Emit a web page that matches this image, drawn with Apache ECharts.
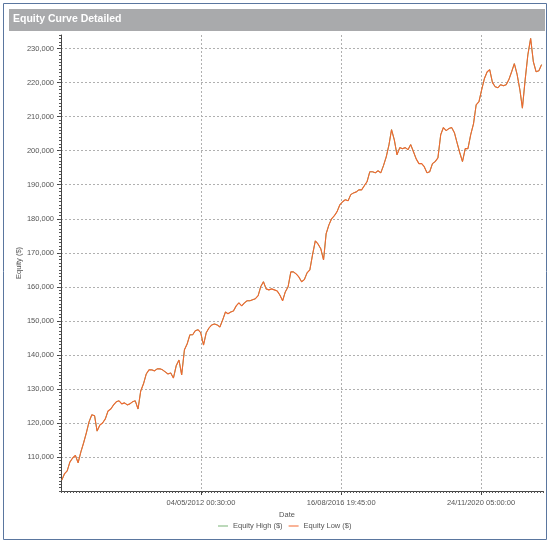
<!DOCTYPE html>
<html><head><meta charset="utf-8">
<script src="https://cdn.jsdelivr.net/npm/echarts@6/dist/echarts.min.js"></script>
<style>html,body{margin:0;padding:0;background:#fff}#c{width:554px;height:545px}</style>
</head><body><div id="c"></div><script>
// Monthly equity readings starting Feb 2008 (first of each month)
const firstYear = 2008, firstMonthIndex = 1;
const equityLow = [
103200,105000,105900,108500,109700,110500,108300,111500,114100,117100,
120300,122400,122100,117600,119400,120000,121200,123500,124100,125300,
126200,126500,125600,125900,125300,125600,126200,126500,124100,129400,
131500,134400,135600,135600,135300,135900,135900,135600,135000,134400,
134700,133200,136800,138500,134100,141500,143200,145900,145900,147100,
147400,146500,142900,146500,147900,148800,149100,148800,148200,150300,
152600,152100,152600,152900,154400,155300,154400,155300,155900,155900,
156200,156500,157400,160000,161500,159400,159100,159400,159100,158800,
157600,155900,158500,160000,164400,164400,163800,162900,161500,162100,
164100,165000,169400,173500,172600,171200,167900,175600,178200,180000,
180900,182100,184100,185000,185600,185300,187100,187600,187900,188500,
188500,189700,190900,193800,193800,193500,194100,193500,195600,198200,
201800,206200,203200,198800,200900,200600,200900,200300,201800,199700,
197600,196200,196200,195300,193500,193800,196200,196800,197900,204700,
206800,205900,206500,206800,205300,202400,199400,196800,200600,200600,
204700,207900,213500,214400,217900,221200,223200,223800,220000,218800,
218500,219400,219100,219400,220900,223200,225600,222400,217900,212500,
220900,228200,233000,226200,223200,223500,225300
];
const equityHigh = equityLow; // drawn underneath, coincides with the low curve
const xTickLabels = ['04/05/2012 00:30:00','16/08/2016 19:45:00','24/11/2020 05:00:00'];
const yTickValues = [110000,120000,130000,140000,150000,160000,170000,180000,190000,200000,210000,220000,230000];
const xRange = ['2008-01-23','2022-10-17'];
const yRange = [100000, 234000];

function parseDMY(s){
  const [d,t]=s.split(' ');
  const [dd,mm,yy]=d.split('/').map(Number);
  const [h,mi,se]=t.split(':').map(Number);
  return new Date(yy,mm-1,dd,h,mi,se).getTime();
}
function parseISO(s){const [y,m,d]=s.split('-').map(Number);return new Date(y,m-1,d).getTime();}
const xTickValues = xTickLabels.map(parseDMY);
const dates = equityLow.map((_,i)=>new Date(firstYear, firstMonthIndex+i, 1).getTime());
const lowData = dates.map((d,i)=>[d,equityLow[i]]);
const highData = dates.map((d,i)=>[d,equityHigh[i]]);

const FONT = 'Liberation Sans';
const LOW_COLOR = '#f2672f', HIGH_COLOR = '#79b274';
const chart = echarts.init(document.getElementById('c'), null, {renderer:'canvas'});
chart.setOption({
  animation:false,
  backgroundColor:'#fff',
  graphic:[
    {type:'rect', shape:{x:3.5,y:3.5,width:543,height:536}, style:{fill:'none',stroke:'#5a769f',lineWidth:1}, z:-10},
    {type:'rect', shape:{x:9,y:9,width:536,height:22}, style:{fill:'#a9aaac'}, z:-9}
  ],
  title:{text:'Equity Curve Detailed', left:13, top:14, padding:0,
    textStyle:{color:'#fff',fontSize:10.5,fontWeight:'bold',fontFamily:FONT}},
  legend:{left:218, top:522, icon:'rect', itemWidth:10, itemHeight:1, itemGap:6, padding:0,
    textStyle:{fontSize:7.5,color:'#555',fontFamily:FONT},
    data:['Equity High ($)','Equity Low ($)']},
  grid:{left:61, right:11, top:35, bottom:54, containLabel:false},
  xAxis:[{
    type:'value', min:parseISO(xRange[0]), max:parseISO(xRange[1]),
    name:'Date', nameLocation:'middle', nameGap:20, nameMoveOverlap:false,
    nameTextStyle:{fontSize:7.5,color:'#555',fontFamily:FONT,padding:[0,30,0,0]},
    axisLine:{show:true,lineStyle:{color:'#444',width:1}},
    axisTick:{show:true,length:4,customValues:xTickValues,lineStyle:{color:'#444'}},
    axisLabel:{customValues:xTickValues, margin:8, fontSize:7.5, color:'#555', fontFamily:FONT,
      formatter:function(v){const i=xTickValues.indexOf(v);return i>=0?xTickLabels[i]:'';}},
    splitLine:{show:true,lineStyle:{color:'#b0b0b0',type:[2,2],width:1}}
  },{
    type:'value', position:'bottom', min:0, max:160, interval:1,
    axisLine:{show:false}, axisLabel:{show:false}, splitLine:{show:false},
    axisTick:{show:true,length:2,lineStyle:{color:'#555'}}
  }],
  yAxis:[{
    type:'value', min:yRange[0], max:yRange[1],
    name:'Equity ($)', nameLocation:'middle', nameGap:38, nameMoveOverlap:false,
    nameTextStyle:{fontSize:7.5,color:'#555',fontFamily:FONT},
    axisLine:{show:true,lineStyle:{color:'#444',width:1}},
    axisTick:{show:true,length:4,customValues:yTickValues,lineStyle:{color:'#444'}},
    axisLabel:{customValues:yTickValues, margin:7, fontSize:7.5, color:'#555', fontFamily:FONT,
      formatter:function(v){return v.toLocaleString('en-US');}},
    splitLine:{show:true,lineStyle:{color:'#b0b0b0',type:[2,2],width:1}}
  },{
    type:'value', position:'left', min:yRange[0], max:yRange[1], interval:1000,
    axisLine:{show:false}, axisLabel:{show:false}, splitLine:{show:false},
    axisTick:{show:true,length:2,lineStyle:{color:'#555'}}
  }],
  series:[
    {name:'Equity High ($)', type:'line', data:highData, symbol:'none',
      lineStyle:{color:HIGH_COLOR,width:1}, itemStyle:{color:HIGH_COLOR}},
    {name:'Equity Low ($)', type:'line', data:lowData, symbol:'none',
      lineStyle:{color:LOW_COLOR,width:1.1}, itemStyle:{color:LOW_COLOR}}
  ]
});
</script></body></html>
